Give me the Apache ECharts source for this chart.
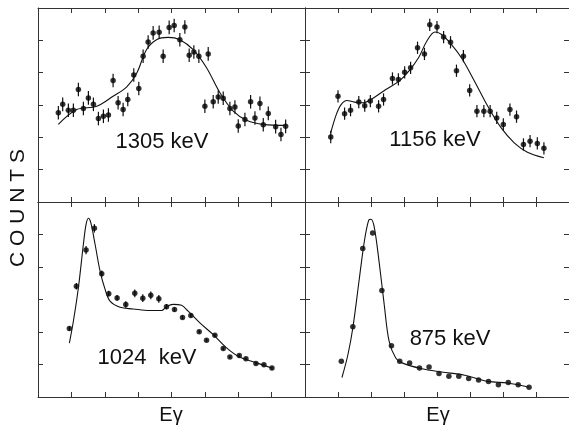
<!DOCTYPE html>
<html>
<head>
<meta charset="utf-8">
<script src="https://cdn.jsdelivr.net/npm/echarts@6/dist/echarts.min.js"></script>
<style>
html, body { margin: 0; padding: 0; background: #fff; }
#chart { width: 569px; height: 431px; }
</style>
</head>
<body>
<div id="chart"></div>
<script>
// axis ranges (no tick labels on this figure)
var X_MAX = 80, X_STEP = 10;
var Y_MAX = 60, Y_STEP = 10;

// 1305 keV panel: measured points and fit
var pts1305 = [[6.1,27.6],[7.4,30.2],[9.1,28.4],[10.6,28.4],[12.1,34.8],[13.6,28.9],[15.1,32.2],[16.6,30.2],[18.1,25.8],[19.6,26.5],[21.1,26.9],[22.5,37.6],[24.0,30.7],[25.5,28.6],[26.9,31.7],[28.7,39.3],[30.2,35.1],[31.5,45.1],[33.0,49.5],[34.5,52.3],[36.3,52.5],[37.5,45.1],[39.3,54.0],[40.8,54.6],[42.5,50.2],[44.0,54.1],[45.3,45.4],[46.7,46.4],[48.2,45.1],[50.0,29.6],[51.0,45.8],[52.5,31.0],[54.0,32.5],[55.5,32.1],[57.5,28.9],[59.0,29.4],[60.0,23.5],[62.0,25.5],[63.7,31.0],[65.0,26.0],[66.5,30.5],[67.5,23.9],[69.0,27.4],[71.2,23.3],[72.8,20.9],[74.2,23.4]];
var err1305 = 2.1;
var fit1305 = [[6.1,24.0],[11.6,28.6],[17.6,29.6],[22.5,32.7],[26.6,35.6],[29.6,39.9],[32.5,47.1],[35.5,50.2],[39.0,50.9],[42.5,50.2],[46.5,47.1],[50.5,41.5],[54.5,33.8],[58.5,28.1],[62.5,25.3],[67.5,24.0],[74.5,23.7]];

// 1156 keV panel
var pts1156 = [[7.8,20.1],[10.0,32.7],[12.0,27.3],[13.8,28.4],[16.3,30.9],[18.1,29.8],[19.8,31.2],[22.3,29.6],[23.8,31.7],[26.5,38.2],[28.3,37.9],[30.2,40.1],[32.0,41.5],[34.1,47.7],[36.2,45.8],[37.8,54.8],[40.0,54.1],[42.0,51.0],[44.1,49.4],[45.9,40.6],[48.0,45.1],[49.9,34.5],[52.1,28.1],[54.2,28.1],[56.1,28.1],[58.1,26.0],[60.1,24.0],[62.1,28.6],[64.1,26.4],[66.2,17.8],[68.2,18.8],[70.4,18.1],[72.4,16.6]];
var err1156 = 1.9;
var fit1156 = [[7.8,21.4],[9.5,27.1],[11.0,30.2],[12.7,31.4],[15.0,30.9],[17.5,30.7],[20.0,31.7],[24.5,34.8],[28.4,37.3],[31.4,40.4],[34.4,44.6],[36.9,49.7],[39.4,52.6],[41.4,51.8],[44.4,48.7],[47.4,44.6],[51.4,37.3],[55.4,29.6],[59.4,23.0],[63.4,18.3],[67.4,15.4],[72.4,13.7]];

// 1024 keV panel
var pts1024 = [[9.4,21.1],[11.5,34.1],[14.4,45.2],[16.9,51.9],[19.1,37.9],[21.2,31.8],[23.7,30.5],[26.3,28.5],[29.0,31.9],[31.4,30.4],[33.8,31.3],[36.2,30.2],[38.5,27.8],[40.9,26.9],[43.3,24.5],[45.8,25.1],[48.3,20.1],[50.5,17.5],[53.0,19.0],[55.5,14.9],[57.5,12.3],[60.3,12.8],[62.3,11.8],[65.3,10.3],[67.7,9.9],[70.1,8.9]];
var err1024 = [0.6,1.0,1.3,1.3,1.0,0.9,0.9,1.0,1.2,1.2,1.2,1.2,0.8,0.6,0.6,0.6,0.5,0.5,0.5,0.4,0.4,0.4,0.4,0.4,0.4,0.4];
var fit1024 = [[9.4,16.6],[10.6,23.3],[12.1,33.6],[13.6,47.0],[14.4,53.1],[15.1,55.0],[15.8,53.7],[17.1,47.0],[18.6,38.7],[20.1,33.1],[21.6,29.5],[24.6,27.6],[28.5,27.1],[33.5,26.6],[37.0,26.6],[38.5,27.8],[40.5,28.5],[43.0,28.2],[45.0,26.4],[48.5,22.8],[52.5,19.2],[56.5,15.1],[60.5,12.2],[65.5,10.5],[70.0,8.9]];

// 875 keV panel
var pts875 = [[11.0,11.0],[14.5,21.6],[17.5,45.7],[20.5,50.5],[23.3,32.8],[26.2,15.8],[28.7,11.0],[31.7,10.5],[34.7,8.9],[37.6,9.2],[40.6,7.2],[43.6,6.4],[46.6,6.4],[49.6,5.7],[52.6,5.2],[55.6,4.8],[58.6,3.8],[61.6,4.5],[64.6,3.8],[67.9,3.0]];
var fit875 = [[11.2,6.0],[13.0,13.0],[14.5,21.3],[16.5,36.7],[18.0,48.0],[19.3,54.4],[20.0,54.7],[21.0,52.2],[22.5,41.2],[24.0,28.5],[25.5,17.1],[27.5,12.0],[29.4,10.5],[35.4,8.7],[41.4,7.7],[48.4,6.7],[55.4,4.8],[61.4,4.3],[67.9,3.0]];

var labels = ['1305 keV', '1156 keV', '1024  keV', '875 keV'];
var xTitle = 'Eγ';
var yTitle = 'C O U N T S';

var INK = '#111';
var FRAME = '#333';
var FONT = '"Liberation Sans", Arial, sans-serif';

var chart = echarts.init(document.getElementById('chart'));

var grids = [
    {left: 38, top: 8, width: 267, height: 194},
    {left: 305, top: 8, width: 267, height: 194},
    {left: 38, top: 202, width: 267, height: 195},
    {left: 305, top: 202, width: 267, height: 195}
];

function axisCommon() {
    return {
        type: 'value',
        axisLine: {show: true, onZero: false, lineStyle: {color: FRAME, width: 1}},
        axisTick: {show: true, inside: true, length: 5, lineStyle: {color: FRAME, width: 1}},
        axisLabel: {show: false},
        splitLine: {show: false}
    };
}

var xAxes = [], yAxes = [];
grids.forEach(function (g, i) {
    ['bottom', 'top'].forEach(function (pos) {
        var a = axisCommon();
        a.gridIndex = i; a.position = pos;
        a.min = 0; a.max = X_MAX; a.interval = X_STEP;
        xAxes.push(a);
    });
    ['left', 'right'].forEach(function (pos) {
        var a = axisCommon();
        a.gridIndex = i; a.position = pos;
        a.min = 0; a.max = Y_MAX; a.interval = Y_STEP;
        yAxes.push(a);
    });
});

function errData(pts, err) {
    return pts.map(function (p, k) {
        var e = Array.isArray(err) ? err[k] : err;
        return [p[0], p[1], e];
    });
}

function renderErr(params, api) {
    var x = api.value(0), y = api.value(1), e = api.value(2);
    var a = api.coord([x, y + e]);
    var b = api.coord([x, y - e]);
    return {
        type: 'line',
        shape: {x1: a[0], y1: a[1], x2: b[0], y2: b[1]},
        style: {stroke: INK, lineWidth: 1.2}
    };
}

var panels = [
    {pts: pts1305, fit: fit1305, err: err1305},
    {pts: pts1156, fit: fit1156, err: err1156},
    {pts: pts1024, fit: fit1024, err: err1024},
    {pts: pts875, fit: fit875, err: 0}
];

var series = [];
panels.forEach(function (p, i) {
    var xi = i * 2, yi = i * 2;
    series.push({
        type: 'line', xAxisIndex: xi, yAxisIndex: yi,
        data: p.fit, smooth: 0.35, showSymbol: false, silent: true,
        lineStyle: {color: INK, width: 1.1}
    });
    series.push({
        type: 'custom', xAxisIndex: xi, yAxisIndex: yi,
        data: errData(p.pts, p.err), renderItem: renderErr,
        encode: {x: 0, y: 1}, silent: true
    });
    series.push({
        type: 'scatter', xAxisIndex: xi, yAxisIndex: yi,
        data: p.pts, symbol: 'circle', symbolSize: 5.5,
        itemStyle: {color: '#000'}, silent: true
    });
});

var labelPos = [[162, 142], [435, 140], [147, 358], [450, 339]];
var graphics = labels.map(function (t, i) {
    return {
        type: 'text', x: labelPos[i][0], y: labelPos[i][1],
        style: {text: t, font: '22px ' + FONT, fill: INK, align: 'center', verticalAlign: 'middle'}
    };
});
graphics.push({
    type: 'text', x: 171, y: 415,
    style: {text: xTitle, font: '20px ' + FONT, fill: INK, align: 'center', verticalAlign: 'middle'}
});
graphics.push({
    type: 'text', x: 438, y: 415,
    style: {text: xTitle, font: '20px ' + FONT, fill: INK, align: 'center', verticalAlign: 'middle'}
});
graphics.push({
    type: 'text', x: 18, y: 208, rotation: Math.PI / 2,
    style: {text: yTitle, font: '21px ' + FONT, fill: INK, align: 'center', verticalAlign: 'middle'}
});

chart.setOption({
    animation: false,
    backgroundColor: '#fff',
    grid: grids,
    xAxis: xAxes,
    yAxis: yAxes,
    series: series,
    graphic: graphics
});
</script>
</body>
</html>
